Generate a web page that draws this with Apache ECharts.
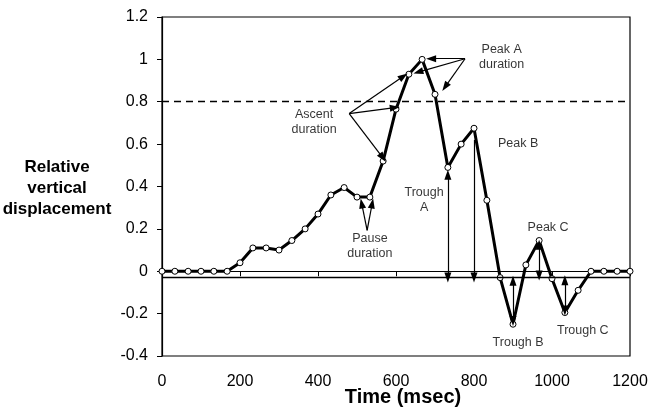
<!DOCTYPE html>
<html>
<head>
<meta charset="utf-8">
<script src="https://cdn.jsdelivr.net/npm/echarts@6/dist/echarts.min.js"></script>
<style>html,body{margin:0;padding:0;background:#fff}#c{width:664px;height:407px}</style>
</head>
<body>
<div id="c"></div>
<script>
// Sample times (msec) and relative vertical displacement
const times = [0,33,67,100,133,167,200,233,267,300,333,367,400,433,467,500,533,567,600,633,667,700,733,767,800,833,867,900,933,967,1000,1033,1067,1100,1133,1167,1200];
const values = [0,0,0,0,0,0,0.04,0.11,0.11,0.10,0.145,0.2,0.27,0.36,0.395,0.35,0.35,0.52,0.765,0.93,1.0,0.835,0.49,0.6,0.675,0.335,-0.03,-0.25,0.03,0.145,-0.035,-0.195,-0.09,0,0,0,0];

// Reference lines
const thresholdLevel = 0.8;
const baselineLevel = -0.03;

// Annotation arrows: [t1, v1, t2, v2, doubleHeaded]
const arrows = [
  [480, 0.744, 619, 0.92, false],
  [480, 0.744, 597, 0.772, false],
  [480, 0.744, 566, 0.536, false],
  [777, 1.003, 690, 1.003, false],
  [777, 1.003, 657, 0.94, false],
  [777, 1.003, 726, 0.87, false],
  [526, 0.193, 512, 0.32, false],
  [526, 0.193, 539, 0.32, false],
  [733, 0.455, 733, -0.03, true],
  [800, 0.62, 800, -0.03, false],
  [900, -0.045, 900, -0.235, true],
  [967, 0.125, 967, -0.02, true],
  [1033, -0.042, 1033, -0.185, true]
];

// Annotation texts: [t, v, text]
const notes = [
  [390, 0.703, 'Ascent\nduration'],
  [871, 1.009, 'Peak A\nduration'],
  [533, 0.118, 'Pause\nduration'],
  [672, 0.337, 'Trough\nA'],
  [913, 0.604, 'Peak B'],
  [990, 0.208, 'Peak C'],
  [913, -0.338, 'Trough B'],
  [1079, -0.278, 'Trough C']
];

const FONT = 'Arial, "Liberation Sans", Helvetica, sans-serif';

const arrowData = arrows.map(a => [
  {coord: [a[0], a[1]], symbol: a[4] ? 'triangle' : 'none'},
  {coord: [a[2], a[3]], symbol: 'triangle'}
]);

const chart = echarts.init(document.getElementById('c'), null, {renderer: 'canvas'});
chart.setOption({
  animation: false,
  backgroundColor: '#fff',
  grid: {left: 162, right: 34, top: 17, bottom: 51, show: true, borderColor: '#000', borderWidth: 1.2, backgroundColor: 'transparent'},
  xAxis: {
    type: 'value', min: 0, max: 1200, interval: 200,
    axisLine: {lineStyle: {color: '#000', width: 1.2}},
    axisTick: {show: true, inside: false, length: 5, lineStyle: {color: '#000'}},
    axisLabel: {color: '#000', fontSize: 16, fontFamily: FONT, margin: 18, formatter: v => String(v)},
    splitLine: {show: false}
  },
  yAxis: {
    type: 'value', min: -0.4, max: 1.2, interval: 0.2,
    axisLine: {show: true, lineStyle: {color: '#000', width: 1.2}},
    axisTick: {show: true, inside: false, length: 5, lineStyle: {color: '#000'}},
    axisLabel: {color: '#000', fontSize: 16, fontFamily: FONT, margin: 14, formatter: v => String(Math.round(v * 10) / 10)},
    splitLine: {show: false}
  },
  graphic: [
    {type: 'text', x: 57, y: 188, style: {text: 'Relative\nvertical\ndisplacement', align: 'center', verticalAlign: 'middle', font: 'bold 17px ' + FONT, lineHeight: 21, fill: '#000'}},
    {type: 'text', x: 403, y: 397, style: {text: 'Time (msec)', align: 'center', verticalAlign: 'middle', font: 'bold 20px ' + FONT, fill: '#000'}}
  ],
  series: [
    {
      type: 'line',
      data: times.map((t, i) => [t, values[i]]),
      lineStyle: {color: '#000', width: 3},
      symbol: 'circle', symbolSize: 6,
      itemStyle: {color: '#fff', borderColor: '#000', borderWidth: 1},
      z: 3,
      markLine: {
        silent: true, symbol: 'none', animation: false,
        label: {show: false},
        data: [
          {yAxis: thresholdLevel, lineStyle: {color: '#000', width: 1.3, type: [7, 5]}},
          {yAxis: baselineLevel, lineStyle: {color: '#000', width: 1.3, type: 'solid'}}
        ]
      }
    },
    {
      type: 'line', data: [], z: 4,
      markLine: {
        silent: true, animation: false,
        symbolSize: [7, 10],
        label: {show: false},
        lineStyle: {color: '#000', width: 1.2, type: 'solid'},
        itemStyle: {color: '#000'},
        data: arrowData
      }
    },
    {
      type: 'scatter', symbolSize: 0, z: 5,
      data: notes.map(n => ({value: [n[0], n[1]], name: n[2]})),
      label: {show: true, position: 'inside', formatter: p => p.name, color: '#000', fontSize: 12.5, fontFamily: FONT, lineHeight: 15, align: 'center'}
    }
  ]
});
</script>
</body>
</html>
